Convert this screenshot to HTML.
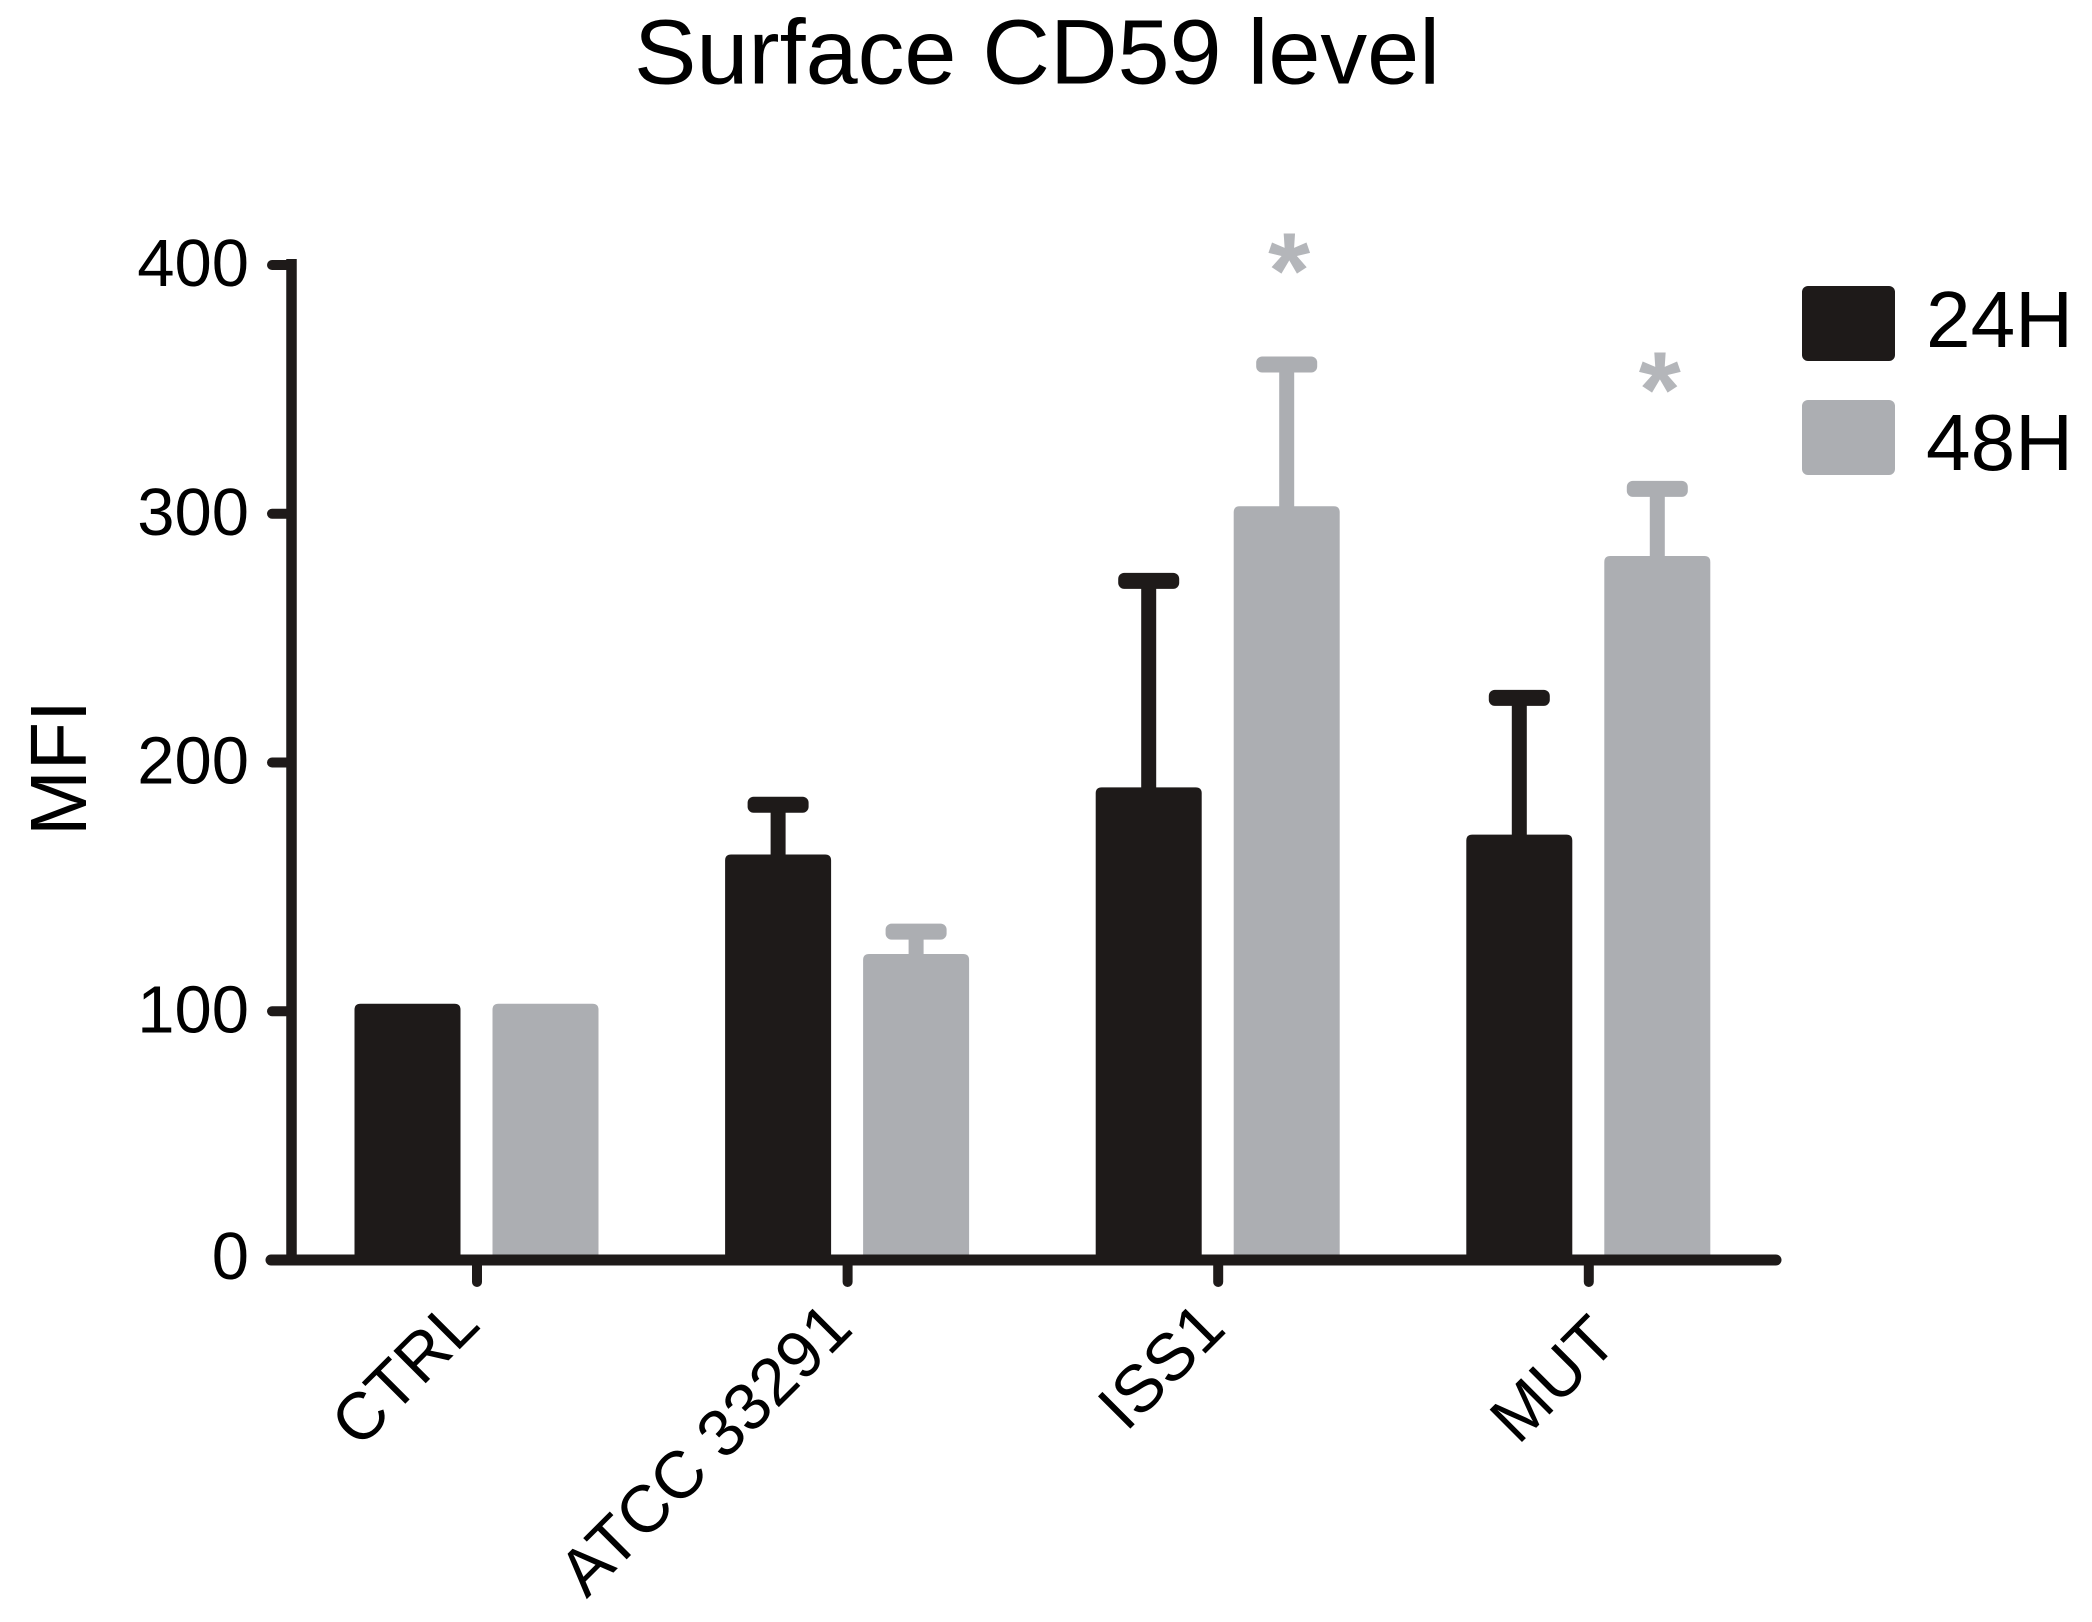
<!DOCTYPE html>
<html lang="en">
<head>
<meta charset="utf-8">
<title>Surface CD59 level</title>
<style>
html,body{margin:0;padding:0;background:#fff;}
svg{display:block;}
text{font-family:"Liberation Sans",Arial,sans-serif;fill:#000;}
</style>
</head>
<body>
<svg id="chart" xmlns="http://www.w3.org/2000/svg" width="2092" height="1622" viewBox="0 0 2092 1622">
  <rect x="0" y="0" width="2092" height="1622" fill="#fff"/>
  <text x="634" y="83.5" font-size="92" textLength="806" lengthAdjust="spacingAndGlyphs">Surface CD59 level</text>
  <text transform="translate(86,836) rotate(-90)" font-size="80" textLength="136" lengthAdjust="spacingAndGlyphs">MFI</text>
  <g id="marks"></g>
  <g>
    <rect x="1802" y="286" width="93" height="75" rx="6" fill="#1e1a19"/>
    <text x="1926" y="347" font-size="80" textLength="147" lengthAdjust="spacingAndGlyphs">24H</text>
    <rect x="1802" y="400" width="93" height="75" rx="6" fill="#acaeb2"/>
    <text x="1926" y="470" font-size="80" textLength="147" lengthAdjust="spacingAndGlyphs">48H</text>
  </g>
</svg>
<script>
const categories = ["CTRL", "ATCC 33291", "ISS1", "MUT"];
const values24h = [103, 163, 190, 171];
const values48h = [103, 123, 303, 283];
const errorTop24h = [null, 183, 273, 226];
const errorTop48h = [null, 132, 360, 310];
const asteriskLevels = [null, null, 383, 335];
const yTicks = [0, 100, 200, 300, 400];
const seriesNames = ["24h", "48h"];

const BLACK = "#1e1a19";
const GRAY = "#acaeb2";
const NS = "http://www.w3.org/2000/svg";
const root = document.getElementById("marks");

function yScale(v) { return 1260 - v * 2.4875; }
function xTick(i) { return 477 + i * 370.6; }
function xBar(i, s) { return xTick(i) + (s === 0 ? -69.5 : 68.5); }

function make(tag, attrs, parent) {
  const el = document.createElementNS(NS, tag);
  for (const k in attrs) el.setAttribute(k, attrs[k]);
  (parent || root).appendChild(el);
  return el;
}

function drawBar(i, s, value, top, color) {
  const cx = xBar(i, s);
  const slug = categories[i].toLowerCase().replace(/\s+/g, "-") + "-" + seriesNames[s];
  if (top !== null) {
    const stem = make("line", { x1: cx, x2: cx, y1: yScale(top), y2: yScale(value) + 4, stroke: color, "stroke-width": 15 });
    
    
    const cap = make("rect", { x: cx - 30.5, y: yScale(top) - 8, width: 61, height: 16, rx: 6, fill: color });
    
    
  }
  const bar = make("path", {
    d: "M" + (cx - 53) + " 1262V" + (yScale(value) + 6) + "Q" + (cx - 53) + " " + yScale(value) + " " + (cx - 47) + " " + yScale(value) +
       "H" + (cx + 47) + "Q" + (cx + 53) + " " + yScale(value) + " " + (cx + 53) + " " + (yScale(value) + 6) + "V1262Z",
    fill: color
  });
  
  
}

categories.forEach(function (c, i) {
  drawBar(i, 1, values48h[i], errorTop48h[i], GRAY);
  drawBar(i, 0, values24h[i], errorTop24h[i], BLACK);
  if (asteriskLevels[i] !== null) {
    const star = make("text", { x: xBar(i, 1) + 2.5, y: yScale(asteriskLevels[i]), "font-size": 108, "font-weight": "bold", "text-anchor": "middle" });
    
    
    star.style.fill = "#b4b6ba";
    star.textContent = "*";
  }
});

const yAxisLine = make("line", { x1: 291.5, x2: 291.5, y1: yScale(400) - 6, y2: yScale(0), stroke: BLACK, "stroke-width": 10.5 });


const xAxisLine = make("line", { x1: 271, x2: 1776, y1: yScale(0), y2: yScale(0), stroke: BLACK, "stroke-width": 11, "stroke-linecap": "round" });



yTicks.forEach(function (t) {
  const y = yScale(t);
  if (t !== 0) {
    const tick = make("line", { x1: 272, x2: 290, y1: y, y2: y, stroke: BLACK, "stroke-width": 10, "stroke-linecap": "round" });
    
    
  }
  const label = make("text", { x: 249, y: y + (t === 0 ? 19 : 21), "font-size": 67, "text-anchor": "end" });
  
  
  label.textContent = t;
});

const labelEnds = [[482, 1327], [855, 1331], [1228, 1331], [1620, 1344]];
categories.forEach(function (c, i) {
  const x = xTick(i);
  const tick = make("line", { x1: x, x2: x, y1: 1262, y2: 1282, stroke: BLACK, "stroke-width": 10, "stroke-linecap": "round" });
  
  
  const label = make("text", {
    transform: "translate(" + labelEnds[i][0] + "," + labelEnds[i][1] + ") rotate(-45)",
    "font-size": 66.5, "text-anchor": "end"
  });
  
  
  label.textContent = c;
});
</script>
</body>
</html>
